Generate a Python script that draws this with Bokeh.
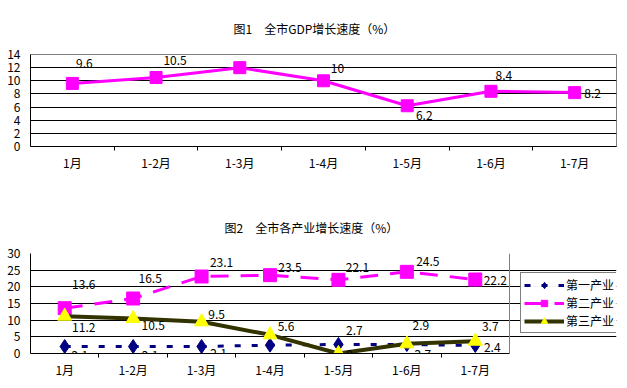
from bokeh.plotting import figure
from bokeh.models import (ColumnDataSource, Range1d, FixedTicker, Title, Legend, LegendItem, Grid)
from bokeh.layouts import gridplot
from bokeh.embed import file_html
from bokeh.resources import INLINE
from bokeh.core.properties import value

# ---------------- data ----------------
months = ["1月", "1-2月", "1-3月", "1-4月", "1-5月", "1-6月", "1-7月"]
gdp = [9.6, 10.5, 12, 10, 6.2, 8.4, 8.2]
primary = [2.1, 2.1, 2.1, 2.5, 2.7, 2.7, 2.4]
secondary = [13.6, 16.5, 23.1, 23.5, 22.1, 24.5, 22.2]
tertiary = [11.2, 10.5, 9.5, 5.6, 0, 2.9, 3.7]
series_names = ["第一产业", "第二产业", "第三产业"]
title1 = "图1\u3000全市GDP增长速度（%）"
title2 = "图2\u3000全市各产业增长速度（%）"

# label offsets (screen px)
gdp_dx = [12, 19, 14, 14, 17, 13, 18]
gdp_dy = [-20, -17, -19, -12, 10, -16, 1]
pri_dx = [15, 17, 17, 18, 16, 16, 17]
pri_dy = [9, 9, 7, 12, -14, 10, 2]
sec_dx = [19, 17, 20, 20, 19, 21, 20]
sec_dy = [-24, -20, -14, -8, -12, -10, 1]
ter_dx = [19, 20, 15, 16, 11, 14, 15]
ter_dy = [11, 7, -7, -8, 1, -18, -15]

FONT = "Noto Sans CJK SC"
MAGENTA = "#FF00FF"
NAVY = "#000080"
OLIVE = "#333300"
YELLOW = "#FFFF00"

n = len(months)
xs = [i + 0.5 for i in range(n)]
overrides = {x: m for x, m in zip(xs, months)}


def fmt(v):
    return ("%g" % v)


def base_fig(height, xmax, ymax, ystep, mb_top, mb_bottom, title, toff):
    p = figure(width=627, height=height, output_backend="svg", toolbar_location=None,
               x_range=Range1d(0, xmax), y_range=Range1d(0, ymax),
               min_border_left=30, min_border_right=11,
               min_border_top=mb_top, min_border_bottom=mb_bottom)
    p.title = Title(text=title, align="left", offset=toff, standoff=35,
                    text_font=FONT, text_font_size="12px", text_font_style="normal",
                    text_color="black")
    p.outline_line_color = "#808080"
    p.outline_line_width = 1
    p.background_fill_color = "white"
    p.border_fill_color = "white"
    p.xgrid.visible = False
    p.ygrid.ticker = FixedTicker(ticks=list(range(0, ymax, ystep)))
    p.ygrid.grid_line_color = "black"
    p.ygrid.grid_line_width = 1
    xa = p.xaxis[0]
    xa.ticker = FixedTicker(ticks=xs, minor_ticks=list(range(1, n)))
    xa.major_label_overrides = overrides
    xa.major_tick_out = 0
    xa.major_tick_in = 0
    xa.minor_tick_out = 4
    xa.minor_tick_in = 0
    xa.minor_tick_line_color = "black"
    xa.axis_line_color = "black"
    xa.major_label_standoff = 3
    xa.major_label_text_font = FONT
    xa.major_label_text_font_size = "12px"
    xa.major_label_text_color = "black"
    ya = p.yaxis[0]
    ya.ticker = FixedTicker(ticks=list(range(0, ymax + 1, ystep)))
    ya.major_tick_out = 0
    ya.major_tick_in = 0
    ya.minor_tick_out = 0
    ya.minor_tick_in = 0
    ya.axis_line_color = "black"
    ya.major_label_standoff = 10
    ya.major_label_text_font = FONT
    ya.major_label_text_font_size = "12px"
    ya.major_label_text_color = "black"
    return p


def add_labels(p, vals, dx, dy):
    src = ColumnDataSource(dict(x=xs, y=vals, t=[fmt(v) for v in vals], dx=dx, dy=dy))
    p.text(x="x", y="y", text="t", x_offset="dx", y_offset="dy", source=src,
           text_align="center", text_baseline="middle", text_font=value(FONT),
           text_font_size="12px", text_color="black")


# ---------------- figure 1 ----------------
p1 = base_fig(198, n, 14, 2, 47, 52, title1, 203)
p1.line(xs, gdp, line_color=MAGENTA, line_width=3)
p1.scatter(xs, gdp, marker="square", size=12, fill_color=MAGENTA, line_color=MAGENTA)
add_labels(p1, gdp, gdp_dx, gdp_dy)

# ---------------- figure 2 ----------------
# plot area of chart 2 spans 479 of the 586 frame pixels; the rest holds the legend
p2 = base_fig(190, n * 586 / 479, 30, 5, 55, 35, title2, 194)
p2.outline_line_color = None
p2.xaxis[0].bounds = (0, n)
p2.ygrid.bounds = (0, n)
p2.add_layout(Grid(dimension=1, ticker=FixedTicker(ticks=[30]), bounds=(0, n),
                   grid_line_color="#808080", grid_line_width=1))
p2.add_layout(Grid(dimension=0, ticker=FixedTicker(ticks=[n]), bounds=(0, 30),
                   grid_line_color="#808080", grid_line_width=1))
l1 = p2.line(xs, primary, line_color=NAVY, line_width=3, line_dash="6 11")
m1 = p2.scatter(xs, primary, marker="diamond", size=14, fill_color=NAVY, line_color=NAVY)
l2 = p2.line(xs, secondary, line_color=MAGENTA, line_width=3, line_dash="18 12")
m2 = p2.scatter(xs, secondary, marker="square", size=13, fill_color=MAGENTA, line_color=MAGENTA)
l3 = p2.line(xs, tertiary, line_color=OLIVE, line_width=4)
m3 = p2.scatter(xs, tertiary, marker="triangle", size=14, fill_color=YELLOW, line_color=YELLOW)
add_labels(p2, primary, pri_dx, pri_dy)
add_labels(p2, secondary, sec_dx, sec_dy)
add_labels(p2, tertiary, ter_dx, ter_dy)

legend = Legend(items=[LegendItem(label=series_names[0], renderers=[l1, m1]),
                       LegendItem(label=series_names[1], renderers=[l2, m2]),
                       LegendItem(label=series_names[2], renderers=[l3, m3])],
                location=(490, 20), orientation="vertical",
                glyph_width=40, glyph_height=16, label_standoff=2, spacing=1,
                padding=3, margin=0, border_line_color="black", border_line_width=1,
                label_text_font=FONT, label_text_font_size="12px",
                label_text_color="black", background_fill_color="white")
p2.add_layout(legend)

lay = gridplot([[p1], [p2]], toolbar_location=None)
open("out.html", "w").write(file_html(lay, INLINE))
